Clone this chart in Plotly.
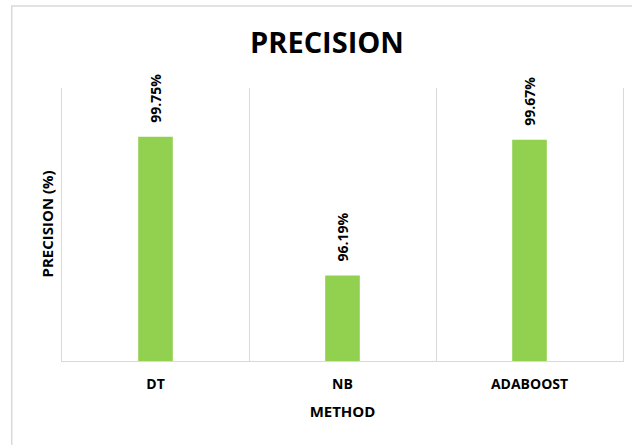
import plotly.graph_objects as go

methods = ["DT", "NB", "ADABOOST"]
precision = [99.75, 96.19, 99.67]
labels = ["99.75%", "96.19%", "99.67%"]

FONT = "Open Sans"
fig = go.Figure()
fig.add_trace(go.Bar(
    x=methods, y=precision, width=0.185,
    marker=dict(color="#92D050", line=dict(width=0)),
    hoverinfo="skip",
))

annotations = [dict(text=t, x=m, y=v, xref="x", yref="y", xanchor="center", yanchor="bottom",
                    yshift=12, textangle=-90, showarrow=False,
                    font=dict(family=FONT, size=14, color="#000000", weight="bold"))
               for m, v, t in zip(methods, precision, labels)]
annotations.append(dict(text="PRECISION (%)", xref="paper", yref="paper", x=0, y=0.5,
                        xanchor="right", yanchor="middle", xshift=-4, textangle=-90,
                        showarrow=False,
                        font=dict(family=FONT, size=15, color="#000000", weight="bold")))

fig.update_layout(
    width=632, height=445,
    margin=dict(l=62, r=9, t=88, b=84),
    paper_bgcolor="white", plot_bgcolor="white",
    showlegend=False,
    title=dict(text="PRECISION", x=327/632, xref="container", xanchor="center",
               y=1 - 43/445, yref="container", yanchor="middle",
               font=dict(family=FONT, size=29, color="#000000", weight="bold")),
    xaxis=dict(type="category", tickson="boundaries", showgrid=True, gridcolor="#D9D9D9",
               gridwidth=1, showline=True, linecolor="#D9D9D9", linewidth=1,
               ticks="", ticklabelstandoff=10,
               tickfont=dict(family=FONT, size=14, color="#000000", weight="bold"),
               title=dict(text="METHOD", standoff=14,
                          font=dict(family=FONT, size=15, color="#000000", weight="bold"))),
    yaxis=dict(range=[94, 101], showgrid=False, zeroline=False, showticklabels=False,
               showline=True, mirror=True, linecolor="#D9D9D9", linewidth=1, ticks=""),
    shapes=[dict(type="rect", xref="paper", yref="paper",
                 x0=(11.7 - 62) / 561, x1=1.1, y0=-0.5, y1=1 + (88 - 6) / 273,
                 line=dict(color="#D9D9D9", width=1.5), fillcolor="rgba(0,0,0,0)", layer="below")],
    annotations=annotations,
)

fig.write_html("out.html")
